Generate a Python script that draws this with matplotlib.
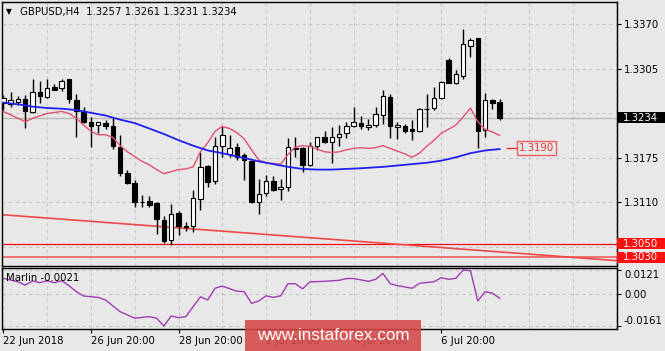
import numpy as np
import matplotlib
matplotlib.use("Agg")
import matplotlib.pyplot as plt
from matplotlib.patches import Rectangle
from matplotlib.transforms import blended_transform_factory

# GBPUSD H4 bars (bar 0 = 22 Jun 2018 20:00)
opens = [1.3256, 1.3254, 1.3257, 1.3261, 1.3242, 1.3271, 1.3264, 1.3279, 1.3277, 1.3290,
         1.3260, 1.3243, 1.3227, 1.3223, 1.3226, 1.3222, 1.3191, 1.3153, 1.3139, 1.3111,
         1.3112, 1.3109, 1.3084, 1.3055, 1.3095, 1.3075, 1.3075, 1.3115, 1.3163, 1.3142,
         1.3192, 1.3181, 1.3191, 1.3179, 1.3170, 1.3110, 1.3124, 1.3142, 1.3129, 1.3133,
         1.3189, 1.3189, 1.3165, 1.3192, 1.3205, 1.3199, 1.3205, 1.3212, 1.3222, 1.3226,
         1.3220, 1.3223, 1.3238, 1.3264, 1.3220, 1.3222, 1.3217, 1.3215, 1.3247, 1.3248,
         1.3262, 1.3318, 1.3284, 1.3295, 1.3339, 1.3350, 1.3216, 1.3260, 1.3257]
highs = [1.3267, 1.3271, 1.3265, 1.3267, 1.3290, 1.3288, 1.3290, 1.3283, 1.3291, 1.3291,
         1.3269, 1.3250, 1.3235, 1.3228, 1.3231, 1.3233, 1.3209, 1.3158, 1.3143, 1.3121,
         1.3119, 1.3110, 1.3090, 1.3108, 1.3098, 1.3082, 1.3128, 1.3183, 1.3164, 1.3206,
         1.3221, 1.3209, 1.3197, 1.3182, 1.3171, 1.3145, 1.3150, 1.3149, 1.3144, 1.3204,
         1.3206, 1.3191, 1.3199, 1.3206, 1.3215, 1.3220, 1.3223, 1.3228, 1.3250, 1.3236,
         1.3232, 1.3250, 1.3275, 1.3269, 1.3227, 1.3225, 1.3231, 1.3248, 1.3269, 1.3279,
         1.3288, 1.3321, 1.3304, 1.3363, 1.3351, 1.3351, 1.3270, 1.3261, 1.3261]
lows = [1.3245, 1.3249, 1.3252, 1.3219, 1.3240, 1.3255, 1.3262, 1.3274, 1.3273, 1.3255,
        1.3205, 1.3226, 1.3191, 1.3211, 1.3217, 1.3188, 1.3149, 1.3137, 1.3104, 1.3104,
        1.3104, 1.3064, 1.3051, 1.3048, 1.3063, 1.3069, 1.3067, 1.3099, 1.3133, 1.3137,
        1.3177, 1.3177, 1.3172, 1.3143, 1.3109, 1.3093, 1.3120, 1.3127, 1.3113, 1.3127,
        1.3177, 1.3155, 1.3163, 1.3186, 1.3197, 1.3168, 1.3192, 1.3204, 1.3220, 1.3217,
        1.3216, 1.3220, 1.3225, 1.3204, 1.3202, 1.3211, 1.3201, 1.3213, 1.3220, 1.3245,
        1.3261, 1.3284, 1.3283, 1.3290, 1.3323, 1.3189, 1.3205, 1.3246, 1.3231]
closes = [1.3263, 1.3259, 1.3261, 1.3243, 1.3272, 1.3266, 1.3277, 1.3275, 1.3288, 1.3261,
          1.3243, 1.3227, 1.3221, 1.3227, 1.3221, 1.3193, 1.3153, 1.3139, 1.3111, 1.3110,
          1.3107, 1.3086, 1.3053, 1.3093, 1.3076, 1.3074, 1.3116, 1.3162, 1.3140, 1.3193,
          1.3209, 1.3189, 1.3177, 1.3172, 1.3110, 1.3123, 1.3142, 1.3128, 1.3133, 1.3191,
          1.3188, 1.3165, 1.3192, 1.3205, 1.3199, 1.3205, 1.3210, 1.3222, 1.3228, 1.3221,
          1.3223, 1.3239, 1.3266, 1.3221, 1.3223, 1.3215, 1.3215, 1.3246, 1.3246, 1.3262,
          1.3286, 1.3285, 1.3298, 1.3342, 1.3348, 1.3215, 1.3259, 1.3256, 1.3234]

# fast moving average (pink)
fast_idx = [0, 3, 4, 6] + list(range(8, 69))
fast_ma = [1.3243, 1.3228, 1.3233, 1.3240, 1.3243, 1.3240, 1.3233, 1.3223, 1.3214, 1.3209,
           1.3209, 1.3205, 1.3193, 1.3184, 1.3177, 1.3170, 1.3165, 1.3158, 1.3152, 1.3155,
           1.3158, 1.3159, 1.3162, 1.3184, 1.3197, 1.3214, 1.3221, 1.3218, 1.3212, 1.3203,
           1.3187, 1.3172, 1.3168, 1.3167, 1.3166, 1.3180, 1.3191, 1.3193, 1.3192, 1.3188,
           1.3184, 1.3183, 1.3184, 1.3187, 1.3189, 1.3190, 1.3189, 1.3190, 1.3193, 1.3189,
           1.3185, 1.3181, 1.3176, 1.3182, 1.3192, 1.3201, 1.3211, 1.3217, 1.3223, 1.3235,
           1.3248, 1.3228, 1.3217, 1.3213, 1.3208]

# slow moving average (blue)
slow_idx = [0, 3, 4, 6, 8, 10, 12, 14, 16, 18, 20, 22, 24, 26, 28, 30, 32, 33, 35, 37,
            39, 41, 43, 45, 47, 49, 52, 55, 58, 60, 62, 64, 66, 68]
slow_ma = [1.3256, 1.3252, 1.3250, 1.3248, 1.3247, 1.3245, 1.3241, 1.3237, 1.3231, 1.3226,
           1.3218, 1.3210, 1.3201, 1.3193, 1.3186, 1.3182, 1.3177, 1.3175, 1.3170, 1.3166,
           1.3162, 1.3159, 1.3158, 1.3158, 1.3159, 1.3160, 1.3162, 1.3165, 1.3168, 1.3171,
           1.3176, 1.3182, 1.3186, 1.3188]

# Marlin oscillator
marlin_idx = [0, 2, 3, 4, 5, 6, 7, 8, 9, 10, 11, 13, 14, 16, 18, 20, 21, 22, 23, 24,
              25, 27, 28, 29, 30, 32, 33, 34, 35, 36, 37, 38, 39, 40, 41, 42, 44, 46, 47, 48,
              50, 51, 52, 53, 54, 56, 57, 59, 60, 61, 62, 63, 64, 65, 66, 67, 68]
marlin = [0.0079, 0.0062, 0.0045, 0.0066, 0.0057, 0.0067, 0.0057, 0.0067, 0.0042, 0.0012,
          -0.0010, -0.0017, -0.0030, -0.0089, -0.0122, -0.0114, -0.0122, -0.0161, -0.0111, -0.0119,
          -0.0114, -0.0014, -0.0030, 0.0029, 0.0040, 0.0014, 0.0012, -0.0047, -0.0035, -0.0009,
          -0.0017, -0.0009, 0.0052, 0.0052, 0.0026, 0.0061, 0.0064, 0.0069, 0.0078, 0.0078,
          0.0064, 0.0074, 0.0104, 0.0052, 0.0042, 0.0029, 0.0054, 0.0062, 0.0082, 0.0074,
          0.0079, 0.0121, 0.0117, -0.0035, 0.0012, 0.0004, -0.0021]

# levels
support_levels = [1.3050, 1.3030]
trend_bars = [0, 84]
trend_prices = [1.3092, 1.3025]
target_level = 1.3190

price_ticks = [1.3370, 1.3305, 1.3240, 1.3175, 1.3110, 1.3045]
price_tick_labels = ["1.3370", "1.3305", "", "1.3175", "1.3110", ""]  # two are covered by price boxes
marlin_ticks = [0.0121, 0.0, -0.0161]
marlin_tick_labels = ["0.0121", "0.00", "-0.0161"]
time_bars = [0, 12, 24, 36, 48, 60]
time_labels = ["22 Jun 2018", "26 Jun 20:00", "28 Jun 20:00", "2 Jul 20:00", "4 Jul 20:00", "6 Jul 20:00"]

BG = "#e8e8e8"
GRID = "#c6c6c6"
FS = 7.3
W, H = 665, 351

fig = plt.figure(figsize=(W / 100, H / 100), dpi=100, facecolor=BG)
ax = fig.add_axes([2 / W, 1 - 266 / H, 615 / W, 264 / H], facecolor=BG)
ax2 = fig.add_axes([2 / W, 1 - 328.5 / H, 615 / W, 60.5 / H], facecolor=BG)

xlim = (-0.18, 84.07)
for a in (ax, ax2):
    a.set_xlim(*xlim)
    for s in a.spines.values():
        s.set_color("black")
        s.set_linewidth(1)
    a.yaxis.tick_right()
    a.tick_params(axis="y", length=3, pad=2, labelsize=FS, colors="black")

ax.set_ylim(1.301717, 1.340287)
ax2.set_ylim(-0.01738, 0.01311)

# grid
grid_bars = list(range(6, 85, 6))
ax.set_xticks(grid_bars)
ax.tick_params(axis="x", length=0, labelbottom=False)
ax.set_yticks(price_ticks)
ax.set_yticklabels(price_tick_labels)
ax.grid(True, color=GRID, linestyle=(0, (3, 3)), linewidth=0.8, zorder=0)
ax.set_axisbelow(True)

ax2.set_xticks(time_bars)
ax2.set_xticklabels(time_labels, ha="left", fontsize=FS)
ax2.set_xticks([b for b in grid_bars if b not in time_bars], minor=True)
ax2.tick_params(axis="x", which="major", length=3, pad=2.5)
ax2.tick_params(axis="x", which="minor", length=0)
ax2.set_yticks(marlin_ticks)
ax2.set_yticklabels(marlin_tick_labels)
labs = ax2.get_yticklabels()
labs[0].set_va("top")
labs[2].set_va("bottom")
ax2.grid(True, which="both", color=GRID, linestyle=(0, (3, 3)), linewidth=0.8)
ax2.set_axisbelow(True)

# levels and trend line
ax.axhline(closes[-1], color="#b8b8b8", lw=1, zorder=1)
ax.axhline(support_levels[0], color="#ee1010", lw=0.9, zorder=2)
ax.axhline(support_levels[1], color="#f07070", lw=1.4, zorder=2)
ax.plot(trend_bars, trend_prices, color="#f04848", lw=1.2, zorder=2)

# candles
x = np.arange(len(opens))
o = np.array(opens)
c = np.array(closes)
up = c >= o
ax.vlines(x, lows, highs, color="black", lw=1, zorder=3)
body_lo = np.minimum(o, c)
body_h = np.maximum(np.abs(c - o), 0.00003)
ax.bar(x, body_h, bottom=body_lo, width=0.62, color=np.where(up, "white", "black"),
       edgecolor="black", linewidth=0.8, zorder=4)

# moving averages
ax.plot(fast_idx, fast_ma, color="#e4506e", lw=1, zorder=5)
ax.plot(slow_idx, slow_ma, color="#2020f0", lw=1.3, zorder=5)

# target label
ax.plot([69.0, 70.4], [target_level, target_level], color="#e83030", lw=1, zorder=6)
ax.text(70.6, target_level, f"{target_level:.4f}", color="#e83030", fontsize=FS,
        va="center", ha="left", zorder=7,
        bbox=dict(boxstyle="square,pad=0.2", fc=BG, ec="#f06060", lw=1))

# right price boxes
tr = blended_transform_factory(ax.transAxes, ax.transData)
box_h = 11 * 0.0001461
for price, fc in [(closes[-1], "black"), (support_levels[0], "#ff1010"), (support_levels[1], "#ff1010")]:
    ax.add_patch(Rectangle((1.0, price - box_h / 2), 48 / 615, box_h, transform=tr,
                           fc=fc, ec="none", clip_on=False, zorder=10))
    ax.text(1.0 + 6 / 615, price, f"{price:.4f}", transform=tr, color="white",
            fontsize=FS, va="center", ha="left", clip_on=False, zorder=11)

# indicator
ax2.plot(marlin_idx, marlin, color="#a03cb4", lw=1)
fig.text(6 / W, 1 - 278 / H, f"Marlin {marlin[-1]:.4f}", fontsize=FS, va="center", ha="left")

# title
fig.text(6 / W, 1 - 12 / H, "\u25bc", fontsize=5.5, va="center", ha="left")
fig.text(20 / W, 1 - 12 / H,
         f"GBPUSD,H4  {opens[-1]:.4f} {highs[-1]:.4f} {lows[-1]:.4f} {closes[-1]:.4f}",
         fontsize=FS, va="center", ha="left")

# watermark
fig.add_artist(Rectangle((245 / W, 0), 176 / W, 31 / H, transform=fig.transFigure,
                         fc=(214 / 255, 72 / 255, 72 / 255), alpha=0.88, ec="none", zorder=20))
fig.text(333 / W, 1 - 335.5 / H, "www.instaforex.com", color="white", fontsize=12.3,
         family="Liberation Sans", ha="center", va="center", zorder=21)

fig.savefig("out.png", dpi=100, facecolor=BG)
